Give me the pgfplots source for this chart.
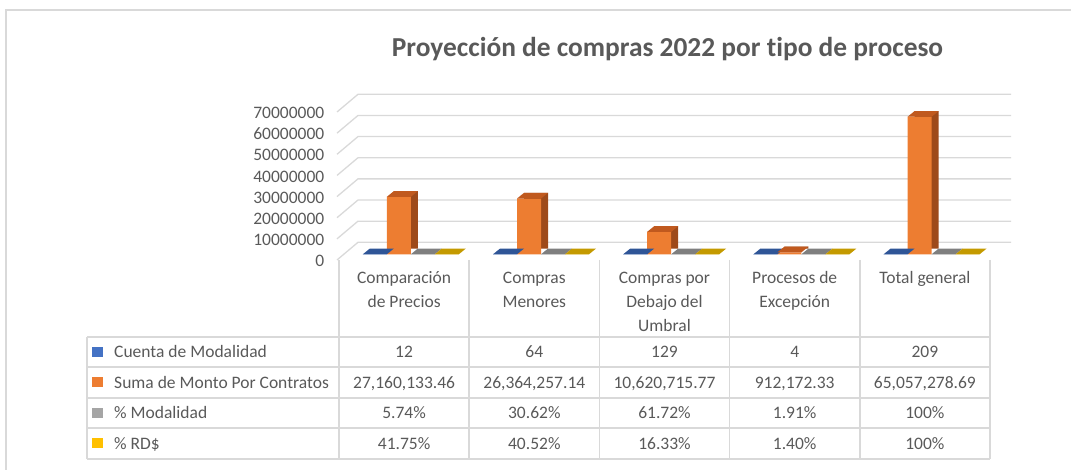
\documentclass[border=0pt]{standalone}
\usepackage{fontspec}
\setmainfont{Carlito}[Ligatures=CommonOff]
\usepackage{pgfplots}
\pgfplotsset{compat=1.18}

\definecolor{txt}{HTML}{595959}
\definecolor{gridc}{HTML}{D9D9D9}
\definecolor{cblue}{HTML}{4472C4}
\definecolor{corange}{HTML}{ED7D31}
\definecolor{cgray}{HTML}{A5A5A5}
\definecolor{cyellow}{HTML}{FFC000}
% darker shades for the top and side faces of the 3-D columns
\definecolor{tblue}{HTML}{2F5597}
\definecolor{torange}{HTML}{C0591E}
\definecolor{sorange}{HTML}{9E4A1A}
\definecolor{tgray}{HTML}{7F7F7F}
\definecolor{tyellow}{HTML}{C49A00}

% top face of a column: 24pt wide, 7pt x 5.7pt deep
\pgfdeclareplotmark{topface}{%
  \pgfpathmoveto{\pgfqpoint{-12pt}{0pt}}%
  \pgfpathlineto{\pgfqpoint{12pt}{0pt}}%
  \pgfpathlineto{\pgfqpoint{19pt}{5.7pt}}%
  \pgfpathlineto{\pgfqpoint{-5pt}{5.7pt}}%
  \pgfpathclose
  \pgfusepathqfill}

\newcommand{\tfont}{\fontsize{17.5}{21}\selectfont}
\newcommand{\cell}[3]{\node[anchor=base, text=txt] at ({339+130.2*(#1+0.5)},#2) {#3};}

\begin{document}
\begin{tikzpicture}[x=1pt, y=1pt, font=\tfont]
\path[use as bounding box] (0,0) rectangle (1071,470);
\draw[gridc, line width=2pt] (6,0) -- (6,460) -- (1071,460);

\node[anchor=base, text=txt, font=\fontsize{27.4}{31}\selectfont\bfseries]
  at (667.5,413) {Proyección de compras 2022 por tipo de proceso};

\begin{axis}[
    at={(339pt,210pt)}, anchor=south west,
    scale only axis, width=651pt, height=148pt,
    xmin=-0.5, xmax=4.5, ymin=0, ymax=70000000,
    clip=false,
    axis line style={draw=none},
    major tick length=0pt,
    xtick=\empty,
    ytick={0,10000000,20000000,30000000,40000000,50000000,60000000,70000000},
    yticklabels={0,10000000,20000000,30000000,40000000,50000000,60000000,70000000},
    scaled y ticks=false,
    yticklabel style={font=\tfont, text=txt, xshift=-11.2pt, yshift=-1pt},
    bar width=24pt,
]
% back wall and side wall
\pgfplotsinvokeforeach{0,...,7}{
  \draw[gridc, line width=1.3pt] ([xshift=-2pt]rel axis cs:0,#1/7) -- ++(21pt,17.7pt)
     -- ([xshift=21pt,yshift=17.7pt]rel axis cs:1,#1/7);
}

% Cuenta de Modalidad
\addplot[ybar, bar shift=-36pt, fill=cblue, draw=none, xshift=6.7pt, yshift=5.7pt]
  coordinates {(0,12) (1,64) (2,129) (3,4) (4,209)};
\addplot[only marks, mark=topface, mark options={fill=tblue, draw=none}, xshift=-29.3pt, yshift=5.7pt]
  coordinates {(0,12) (1,64) (2,129) (3,4) (4,209)};
% % Modalidad
\addplot[ybar, bar shift=12pt, fill=cgray, draw=none, xshift=6.7pt, yshift=5.7pt]
  coordinates {(0,0.0574) (1,0.3062) (2,0.6172) (3,0.0191) (4,1)};
\addplot[only marks, mark=topface, mark options={fill=tgray, draw=none}, xshift=18.7pt, yshift=5.7pt]
  coordinates {(0,0.0574) (1,0.3062) (2,0.6172) (3,0.0191) (4,1)};
% % RD$
\addplot[ybar, bar shift=36pt, fill=cyellow, draw=none, xshift=6.7pt, yshift=5.7pt]
  coordinates {(0,0.4175) (1,0.4052) (2,0.1633) (3,0.014) (4,1)};
\addplot[only marks, mark=topface, mark options={fill=tyellow, draw=none}, xshift=42.7pt, yshift=5.7pt]
  coordinates {(0,0.4175) (1,0.4052) (2,0.1633) (3,0.014) (4,1)};
% Suma de Monto Por Contratos: side, front, top
\addplot[ybar, bar shift=-12pt, fill=sorange, draw=none, xshift=13.7pt, yshift=11.4pt]
  coordinates {(0,27160133.46) (1,26364257.14) (2,10620715.77) (3,912172.33) (4,65057278.69)};
\addplot[ybar, bar shift=-12pt, fill=corange, draw=none, xshift=6.7pt, yshift=5.7pt]
  coordinates {(0,27160133.46) (1,26364257.14) (2,10620715.77) (3,912172.33) (4,65057278.69)};
\addplot[only marks, mark=topface, mark options={fill=torange, draw=none}, xshift=-5.3pt, yshift=5.7pt]
  coordinates {(0,27160133.46) (1,26364257.14) (2,10620715.77) (3,912172.33) (4,65057278.69)};
\end{axis}

% data table
\begin{scope}[gridc, line width=1.5pt]
\foreach \y in {133,103,72,42,11} \draw (87,\y) -- (990,\y);
\draw (87,133) -- (87,11);
\foreach \i in {0,...,5} \draw ({339+130.2*\i},210) -- ({339+130.2*\i},11);
\end{scope}

\cell{0}{186}{Comparación}  \cell{0}{162.5}{de Precios}
\cell{1}{186}{Compras}      \cell{1}{162.5}{Menores}
\cell{2}{186}{Compras por}  \cell{2}{162.5}{Debajo del} \cell{2}{138.2}{Umbral}
\cell{3}{186}{Procesos de}  \cell{3}{162.5}{Excepción}
\cell{4}{186}{Total general}

\fill[cblue]   (92.3,113) rectangle (102.7,123);
\fill[corange] (92.3,82.5) rectangle (102.7,92.5);
\fill[cgray]   (92.3,52) rectangle (102.7,62);
\fill[cyellow] (92.3,21.5) rectangle (102.7,31.5);
\node[anchor=base west, text=txt] at (110.7,112.2) {Cuenta de Modalidad};
\node[anchor=base west, text=txt] at (110.7,81.7) {Suma de Monto Por Contratos};
\node[anchor=base west, text=txt] at (110.7,51.2) {\% Modalidad};
\node[anchor=base west, text=txt] at (110.7,20.7) {\% RD\$};

\cell{0}{112.2}{12} \cell{1}{112.2}{64} \cell{2}{112.2}{129} \cell{3}{112.2}{4} \cell{4}{112.2}{209}
\cell{0}{81.7}{27,160,133.46} \cell{1}{81.7}{26,364,257.14} \cell{2}{81.7}{10,620,715.77}
\cell{3}{81.7}{912,172.33} \cell{4}{81.7}{65,057,278.69}
\cell{0}{51.2}{5.74\%} \cell{1}{51.2}{30.62\%} \cell{2}{51.2}{61.72\%} \cell{3}{51.2}{1.91\%} \cell{4}{51.2}{100\%}
\cell{0}{20.7}{41.75\%} \cell{1}{20.7}{40.52\%} \cell{2}{20.7}{16.33\%} \cell{3}{20.7}{1.40\%} \cell{4}{20.7}{100\%}
\end{tikzpicture}
\end{document}
